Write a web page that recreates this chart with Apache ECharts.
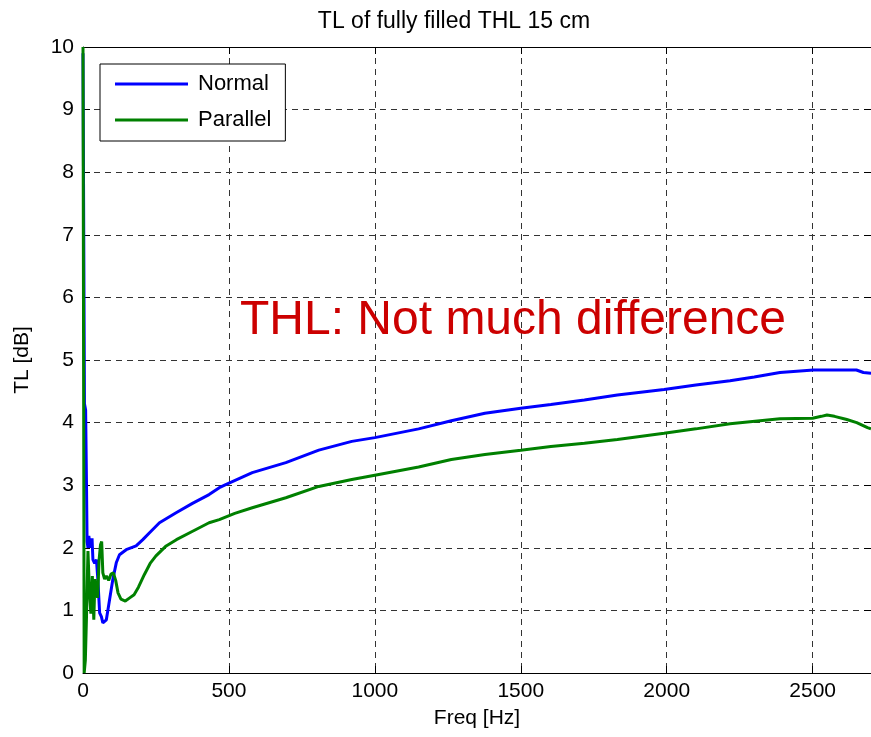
<!DOCTYPE html>
<html>
<head>
<meta charset="utf-8">
<title>TL of fully filled THL 15 cm</title>
<script src="https://cdn.jsdelivr.net/npm/echarts@6/dist/echarts.min.js"></script>
<style>
  html, body { margin: 0; padding: 0; background: #fff; }
  #chart { width: 871px; height: 737px; }
</style>
</head>
<body>
<div id="chart"></div>
<script>
// Transmission loss, normal incidence
const freqNormal = [0, 5, 9, 12, 14, 17, 20, 25, 31, 34, 40, 46, 51, 57, 63, 68, 72, 80, 91, 102, 114, 125, 148, 182, 205, 228, 262, 319, 375, 432, 467, 489, 580, 695, 808, 921, 1000, 1150, 1262, 1377, 1500, 1603, 1718, 1831, 1991, 2100, 2217, 2300, 2388, 2503, 2650, 2674, 2700];
const tlNormal   = [9.9, 4.3, 4.2, 3.0, 2.1, 2.0, 2.19, 2.0, 2.15, 1.81, 1.75, 1.81, 1.49, 0.96, 0.9, 0.8, 0.77, 0.85, 1.17, 1.49, 1.76, 1.89, 1.97, 2.03, 2.13, 2.24, 2.4, 2.56, 2.71, 2.85, 2.96, 3.01, 3.2, 3.36, 3.56, 3.7, 3.76, 3.9, 4.03, 4.15, 4.23, 4.29, 4.36, 4.44, 4.53, 4.6, 4.67, 4.73, 4.8, 4.84, 4.84, 4.8, 4.79];

// Transmission loss, parallel incidence
const freqParallel = [0, 4, 8, 12, 17, 22, 27, 32, 37, 41, 45, 50, 55, 60, 64, 68, 74, 80, 88, 96, 104, 112, 120, 130, 145, 160, 175, 190, 210, 230, 250, 285, 320, 374, 432, 467, 520, 580, 695, 808, 921, 1000, 1150, 1262, 1377, 1500, 1603, 1718, 1831, 1991, 2100, 2217, 2388, 2500, 2530, 2549, 2575, 2617, 2651, 2688, 2700];
const tlParallel   = [10, 0, 0.2, 0.9, 1.95, 1.3, 0.95, 1.55, 0.85, 1.5, 1.35, 1.2, 1.8, 2.05, 2.1, 1.6, 1.5, 1.55, 1.48, 1.58, 1.6, 1.48, 1.28, 1.18, 1.15, 1.2, 1.25, 1.37, 1.57, 1.75, 1.87, 2.03, 2.13, 2.26, 2.4, 2.45, 2.55, 2.64, 2.8, 2.98, 3.09, 3.16, 3.29, 3.41, 3.49, 3.56, 3.62, 3.67, 3.73, 3.83, 3.9, 3.98, 4.06, 4.07, 4.1, 4.12, 4.1, 4.05, 4.0, 3.92, 3.9];

const seriesNames = ['Normal', 'Parallel'];
const chartTitle = 'TL of fully filled THL 15 cm';
const xName = 'Freq [Hz]';
const yName = 'TL [dB]';
const note = 'THL: Not much difference';

const pairs = (xs, ys) => xs.map((x, i) => [x, ys[i]]);
const plain = v => String(v);

const FONT = 'Liberation Sans, Arial, sans-serif';
const gridDash = { color: '#333', width: 1, type: [6, 5] };

const chart = echarts.init(document.getElementById('chart'), null, { renderer: 'canvas' });
chart.setOption({
  animation: false,
  backgroundColor: '#fff',
  textStyle: { fontFamily: FONT, color: '#000' },
  title: {
    text: chartTitle,
    left: 449, textAlign: 'center',
    top: 5,
    textStyle: { fontFamily: FONT, fontSize: 23, fontWeight: 'normal', color: '#000' }
  },
  grid: { left: 83, top: 47, width: 791, height: 626, containLabel: false },
  legend: {
    orient: 'vertical',
    left: 100, top: 64,
    padding: [9, 14, 10, 15],
    borderColor: '#000', borderWidth: 1,
    backgroundColor: '#fff',
    icon: 'rect',
    itemWidth: 73, itemHeight: 3,
    itemGap: 14,
    textStyle: { fontFamily: FONT, fontSize: 22, color: '#000', lineHeight: 22, padding: [0, 0, 0, 5] },
    data: seriesNames
  },
  xAxis: [{
    type: 'value', min: 0, max: 2700, interval: 500,
    name: xName, nameLocation: 'middle', nameGap: 35,
    nameTextStyle: { fontFamily: FONT, fontSize: 21, color: '#000' },
    axisLine: { show: true, lineStyle: { color: '#000', width: 1 } },
    axisTick: { show: true, inside: true, length: 7, lineStyle: { color: '#000' } },
    axisLabel: { fontFamily: FONT, fontSize: 21, color: '#000', margin: 8, showMaxLabel: false, formatter: plain },
    splitLine: { show: true, lineStyle: gridDash }
  }, {
    type: 'value', min: 0, max: 2700, interval: 500, position: 'top',
    axisLine: { show: true, onZero: false, lineStyle: { color: '#000', width: 1 } },
    axisTick: { show: true, inside: true, length: 7, lineStyle: { color: '#000' } },
    axisLabel: { show: false },
    splitLine: { show: false }
  }],
  yAxis: [{
    type: 'value', min: 0, max: 10, interval: 1,
    name: yName, nameLocation: 'middle', nameGap: 50, nameRotate: 90,
    nameTextStyle: { fontFamily: FONT, fontSize: 21, color: '#000' },
    axisLine: { show: true, lineStyle: { color: '#000', width: 1 } },
    axisTick: { show: true, inside: true, length: 7, lineStyle: { color: '#000' } },
    axisLabel: { fontFamily: FONT, fontSize: 21, color: '#000', margin: 9, formatter: plain },
    splitLine: { show: true, lineStyle: gridDash }
  }, {
    type: 'value', min: 0, max: 10, interval: 1, position: 'right',
    axisLine: { show: true, onZero: false, lineStyle: { color: '#000', width: 1 } },
    axisTick: { show: true, inside: true, length: 7, lineStyle: { color: '#000' } },
    axisLabel: { show: false },
    splitLine: { show: false }
  }],
  graphic: [{
    type: 'text',
    left: 240, top: 297,
    z: 10,
    style: { text: note, fontFamily: FONT, fontSize: 48, fill: '#CC0000' }
  }],
  series: [{
    name: seriesNames[0], type: 'line',
    data: pairs(freqNormal, tlNormal),
    showSymbol: false, symbol: 'none',
    color: '#0000FF',
    lineStyle: { color: '#0000FF', width: 3 },
    z: 3
  }, {
    name: seriesNames[1], type: 'line',
    data: pairs(freqParallel, tlParallel),
    showSymbol: false, symbol: 'none',
    color: '#008000',
    lineStyle: { color: '#008000', width: 3 },
    z: 4
  }]
});
</script>
</body>
</html>
